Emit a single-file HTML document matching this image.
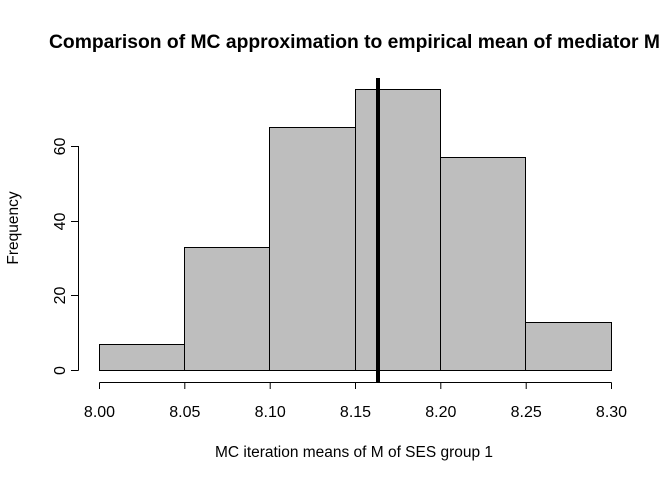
<!DOCTYPE html>
<html><head><style>body{margin:0;background:#fff}</style></head><body>
<svg width="672" height="480" xmlns="http://www.w3.org/2000/svg" font-family="Liberation Sans, Arial, sans-serif">
<rect width="672" height="480" fill="#fff"/>
<text x="49" y="48" font-weight="bold" font-size="19" textLength="611" lengthAdjust="spacingAndGlyphs">Comparison of MC approximation to empirical mean of mediator M</text>
<g fill="#bebebe" stroke="#000" stroke-width="1">
<rect x="99.5" y="344.5" width="85" height="26"/>
<rect x="184.5" y="247.5" width="85" height="123"/>
<rect x="269.5" y="127.5" width="86" height="243"/>
<rect x="355.5" y="89.5" width="85" height="281"/>
<rect x="440.5" y="157.5" width="85" height="213"/>
<rect x="525.5" y="322.5" width="86" height="48"/>
</g>
<line x1="378" y1="78" x2="378" y2="382" stroke="#000" stroke-width="4"/>
<g stroke="#000" stroke-width="1">
<line x1="99.5" y1="382.5" x2="611.5" y2="382.5"/>
<line x1="99.5" y1="382.5" x2="99.5" y2="389"/>
<line x1="184.8" y1="382.5" x2="184.8" y2="389"/>
<line x1="270.2" y1="382.5" x2="270.2" y2="389"/>
<line x1="355.5" y1="382.5" x2="355.5" y2="389"/>
<line x1="440.8" y1="382.5" x2="440.8" y2="389"/>
<line x1="526.2" y1="382.5" x2="526.2" y2="389"/>
<line x1="611.5" y1="382.5" x2="611.5" y2="389"/>
<line x1="78.5" y1="146" x2="78.5" y2="370.5"/>
<line x1="71" y1="370.5" x2="78.5" y2="370.5"/>
<line x1="71" y1="295.5" x2="78.5" y2="295.5"/>
<line x1="71" y1="221.5" x2="78.5" y2="221.5"/>
<line x1="71" y1="146.5" x2="78.5" y2="146.5"/>
</g>
<g font-size="16" text-anchor="middle">
<text x="99.5" y="417">8.00</text>
<text x="184.8" y="417">8.05</text>
<text x="270.2" y="417">8.10</text>
<text x="355.5" y="417">8.15</text>
<text x="440.8" y="417">8.20</text>
<text x="526.2" y="417">8.25</text>
<text x="611.5" y="417">8.30</text>
<text transform="translate(65,370.5) rotate(-90)">0</text>
<text transform="translate(65,295.5) rotate(-90)">20</text>
<text transform="translate(65,221.5) rotate(-90)">40</text>
<text transform="translate(65,146.5) rotate(-90)">60</text>
</g>
<g font-size="15.5" text-anchor="middle">
<text x="354" y="457" textLength="278" lengthAdjust="spacingAndGlyphs">MC iteration means of M of SES group 1</text>
<text transform="translate(18,228) rotate(-90)">Frequency</text>
</g>
</svg>
</body></html>
